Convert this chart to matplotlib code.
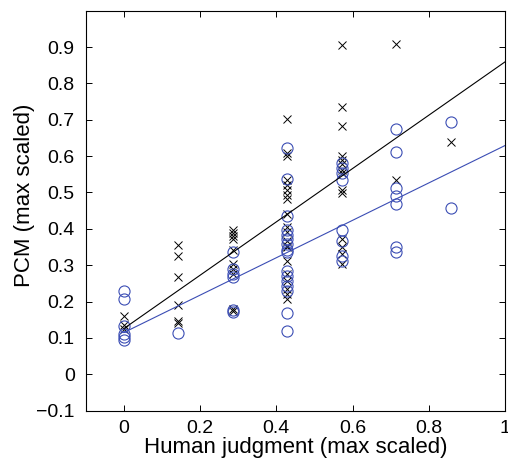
import numpy as np
import matplotlib
matplotlib.use("Agg")
import matplotlib.pyplot as plt

plt.rcParams['font.family'] = ['Liberation Sans', 'DejaVu Sans']

# human judgment levels (k/7)
levels = [0, 1/7, 2/7, 3/7, 4/7, 5/7, 6/7]

# PCM values (crosses) for each judgment level
pcm_x = [
    [0.161, 0.135, 0.125],
    [0.356, 0.324, 0.267, 0.191, 0.147, 0.141],
    [0.398, 0.389, 0.380, 0.373, 0.343, 0.302, 0.289, 0.275, 0.179, 0.173],
    [0.702, 0.608, 0.601, 0.535, 0.521, 0.508, 0.494, 0.481, 0.440, 0.404,
     0.390, 0.366, 0.352, 0.349, 0.311, 0.275, 0.256, 0.234, 0.220, 0.206],
    [0.905, 0.736, 0.684, 0.599, 0.590, 0.577, 0.563, 0.553, 0.508, 0.499,
     0.371, 0.349, 0.330, 0.302],
    [0.907, 0.535],
    [0.638],
]

# second measure (circles) for each judgment level
pcm_o = [
    [0.229, 0.208, 0.133, 0.110, 0.102, 0.095],
    [0.113],
    [0.336, 0.289, 0.275, 0.267, 0.177, 0.171],
    [0.622, 0.537, 0.435, 0.398, 0.384, 0.371, 0.357, 0.343, 0.335,
     0.284, 0.270, 0.256, 0.243, 0.229, 0.168, 0.118],
    [0.581, 0.567, 0.553, 0.535, 0.398, 0.366, 0.325, 0.311],
    [0.674, 0.610, 0.512, 0.491, 0.469, 0.351, 0.336],
    [0.693, 0.457],
]

# fitted lines (endpoints at x=0 and x=1)
fit_x = [0, 1]
fit_black = [0.126, 0.859]
fit_blue = [0.115, 0.629]

blue = '#3b4db4'

fig = plt.figure(figsize=(5.08, 4.63), dpi=100)
ax = fig.add_axes([0.169, 0.113, 0.825, 0.864])

for lv, vals in zip(levels, pcm_x):
    ax.plot([lv] * len(vals), vals, 'x', color='black', ms=5.5, mew=0.7)
for lv, vals in zip(levels, pcm_o):
    ax.plot([lv] * len(vals), vals, 'o', mfc='none', mec=blue, ms=8, mew=0.8)

ax.plot(fit_x, fit_black, color='black', lw=0.8)
ax.plot(fit_x, fit_blue, color=blue, lw=0.8)

ax.set_xlim(-0.1, 1.0)
ax.set_ylim(-0.1, 1.0)
ax.set_xticks([0, 0.2, 0.4, 0.6, 0.8, 1])
ax.set_xticklabels(['0', '0.2', '0.4', '0.6', '0.8', '1'])
ax.set_yticks(np.round(np.arange(-0.1, 0.95, 0.1), 1))
ax.set_yticklabels(['\u22120.1', '0', '0.1', '0.2', '0.3', '0.4', '0.5',
                    '0.6', '0.7', '0.8', '0.9'])
ax.tick_params(direction='in', top=True, right=True, length=4, width=0.7,
               labelsize=14)
ax.tick_params(axis='y', pad=8)
ax.tick_params(axis='x', pad=7)
for s in ax.spines.values():
    s.set_linewidth(0.8)

ax.set_xlabel('Human judgment (max scaled)', fontsize=16, labelpad=0)
ax.set_ylabel('PCM (max scaled)', fontsize=16)
ax.yaxis.set_label_coords(-0.122, 0.5375)

fig.savefig('out.png', dpi=100)
